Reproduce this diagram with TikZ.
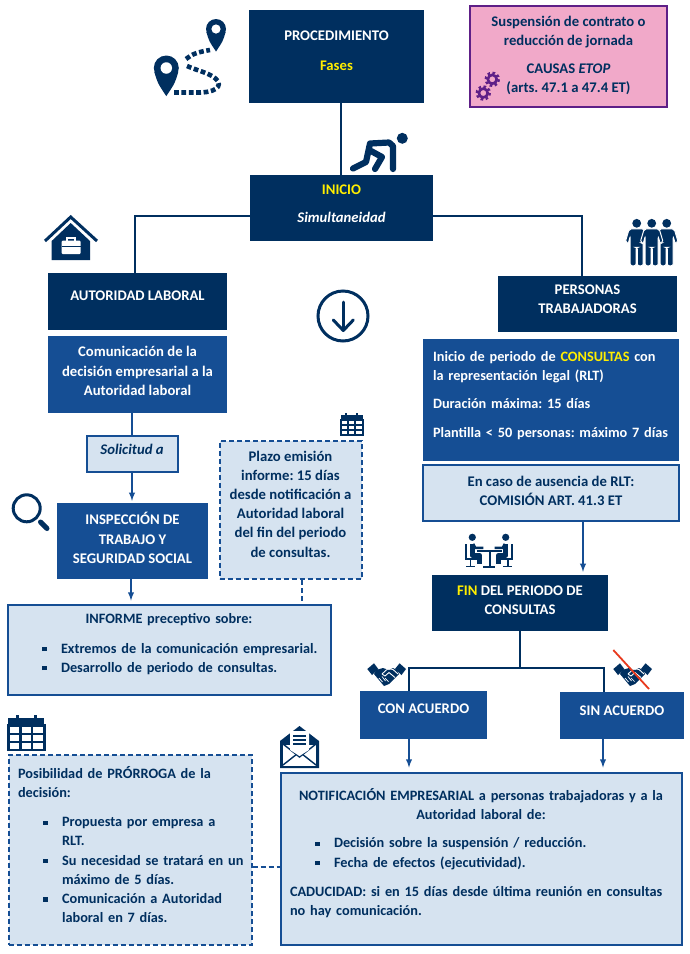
\documentclass[tikz,border=0pt]{standalone}
\usepackage{fontspec}
\setmainfont{Carlito}
\definecolor{navy}{HTML}{002F5F}
\definecolor{midblue}{HTML}{154E94}
\definecolor{paleblue}{HTML}{D6E3F0}
\definecolor{rosebox}{HTML}{F1A9C9}
\definecolor{violet}{HTML}{5E1F87}
\definecolor{hiyellow}{HTML}{FFEE00}
\definecolor{redbar}{HTML}{E8391D}
\newcommand{\boxfont}{\fontsize{14.7pt}{19.2pt}\selectfont\bfseries\frenchspacing}
\newcommand{\listfont}{\fontsize{14.3pt}{19.2pt}\selectfont\bfseries\frenchspacing}
\newcommand{\up}[1]{\rule[-#1]{0pt}{#1}}
\newcommand{\itm}[2]{\par{\leftskip=#1 \noindent\llap{\rule[2pt]{4.2pt}{4.2pt}\hspace{14.5pt}}#2\par}}
\begin{document}
\begin{tikzpicture}[x=1pt, y=-1pt,
    base/.style={font=\boxfont, align=center, inner sep=0pt},
    darkbox/.style={base, fill=navy, text=white},
    midbox/.style={base, fill=midblue, text=white},
    palebox/.style={base, fill=paleblue, text=navy, draw=midblue, line width=2pt},
    dashbox/.style={palebox, dash pattern=on 5pt off 3pt},
    listbox/.style={font=\listfont, align=left},
    rosecard/.style={base, fill=rosebox, text=navy, draw=violet, line width=1.6pt},
    link/.style={navy, line width=1.8pt},
    bluelink/.style={midblue, line width=1.8pt},
    pics/pin/.style={code={
        \fill[navy] (0,0) circle (1);
        \fill[navy] (-0.96,0.3) .. controls (-0.7,1.2) .. (0,2.25) .. controls (0.7,1.2) .. (0.96,0.3) -- cycle;
        \fill[white] (0,0) circle (0.46);
    }},
    pics/calendar/.style={code={
        \fill[navy] (0,0.1) rectangle (1,0.32);
        \fill[navy] (0.2,0.02) rectangle (0.3,0.22);
        \fill[navy] (0.7,0.02) rectangle (0.8,0.22);
        \draw[navy, line width=#1] (0,0.32) rectangle (1,1);
        \draw[navy, line width=#1] (0.34,0.32) -- (0.34,1);
        \draw[navy, line width=#1] (0.66,0.32) -- (0.66,1);
        \draw[navy, line width=#1] (0,0.55) -- (1,0.55);
        \draw[navy, line width=#1] (0,0.77) -- (1,0.77);
    }},
    pics/worker/.style={code={
        \fill[navy] (0,0) circle (4.4);
        \draw[white, line width=1pt, fill=navy, rounded corners=2pt] (-7.5,5.5) -- (7.5,5.5) -- (11.5,19) -- (8.5,20.5) -- (6.5,13) -- (6.5,42.5) -- (0.6,42.5) -- (0.6,24) -- (-0.6,24) -- (-0.6,42.5) -- (-6.5,42.5) -- (-6.5,13) -- (-8.5,20.5) -- (-11.5,19) -- cycle;
    }},
    pics/sitter/.style={code={
        \fill[navy] (0,0) circle (3.6);
        \draw[navy, line width=2pt] (-6,7) -- (-6,22) -- (5,22);
        \draw[navy, line width=1.6pt] (-2,22) -- (-2,29);
        \draw[navy, line width=1.6pt] (-6,29) -- (3,29);
        \draw[navy, line width=5pt, line join=round] (0,7) -- (0,18) -- (7.5,18) -- (7.5,27);
        \draw[navy, line width=2.4pt] (1,6.5) -- (3,10.5) -- (11,10.5);
    }},
    pics/handshake/.style={code={
        \fill[navy] (-19.7,-6) -- (-13,-11.7) -- (-8.7,-6) -- (-15,0) -- cycle;
        \fill[navy] (19,-6) -- (12.5,-11.7) -- (8,-6) -- (14.5,0) -- cycle;
        \fill[navy] (-11,-5) -- (-4,-7) -- (2,-5) -- (6,-7) -- (10,-5) -- (12,-1) -- (2,9) -- (-3,11) -- (-13,-1) -- cycle;
        \draw[white, line width=0.9pt] (-5,-1) -- (1,-6.5) -- (6,-5.5) -- (11,-1);
        \draw[white, line width=0.9pt] (-5,-1) -- (-2,1) -- (2,-2.5) -- (8,2.5);
        \draw[white, line width=0.7pt] (-8,3) -- (-4.5,7);
        \draw[white, line width=0.7pt] (-5,1.5) -- (-1.5,6);
        \draw[white, line width=0.7pt] (-2,3) -- (1.5,6.5);
    }},
    pics/gear/.style={code={
        \draw[violet, line width=2.4pt, dash pattern=on 2.55pt off 2.55pt] (0,0) circle (6.5);
        \draw[violet, line width=2.6pt] (0,0) circle (4.4);
    }}]
    \useasboundingbox (0,0) rectangle (690,954);
    \fill[white] (0,0) rectangle (690,954);

    % top row
    \node[darkbox, minimum width=175pt, minimum height=93pt] (proced) at (336.5,56.5) {PROCEDIMIENTO\\[11pt]\textcolor{hiyellow}{Fases}\up{11pt}};
    \node[rosecard, minimum width=197pt, minimum height=101pt] (causas) at (568.5,56.5) {Suspensión de contrato o\\reducción de jornada\\[9pt]CAUSAS \textit{ETOP}\\(arts. 47.1 a 47.4 ET)\up{4pt}};
    \node[darkbox, minimum width=183pt, minimum height=66pt] (inicio) at (341.5,208) {\textcolor{hiyellow}{INICIO}\\[9pt]\textit{Simultaneidad}\up{8pt}};

    % left column
    \node[darkbox, minimum width=179pt, minimum height=57pt] (autoridad) at (137.5,301.5) {AUTORIDAD LABORAL\up{11pt}};
    \node[midbox, minimum width=179pt, minimum height=77pt] (comunica) at (137.5,374.5) {Comunicación de la\\decisión empresarial a la\\Autoridad laboral\up{7pt}};
    \node[palebox, minimum width=91pt, minimum height=36pt] (solicitud) at (132,453.5) {\textit{Solicitud a}\up{9pt}};
    \node[midbox, minimum width=151pt, minimum height=76pt] (inspeccion) at (132.5,541) {INSPECCIÓN DE\\TRABAJO Y\\SEGURIDAD SOCIAL\up{6pt}};
    \node[dashbox, minimum width=142pt, minimum height=138pt] (plazo) at (290.5,510) {Plazo emisión\\informe: 15 días\\desde notificación a\\Autoridad laboral\\del fin del periodo\\de consultas.\up{12pt}};
    \node[palebox, listbox, minimum width=323pt, minimum height=90pt, text width=304pt] (informe) at (169,649.5) {{\centering INFORME preceptivo sobre:\par}\vspace{10pt}\itm{44pt}{Extremos de la comunicación empresarial.}\itm{44pt}{Desarrollo de periodo de consultas.\up{13pt}}};
    \node[dashbox, listbox, minimum width=243pt, minimum height=190pt, text width=224pt] (prorroga) at (130,849.5) {Posibilidad de PRÓRROGA de la\\decisión:\par\vspace{10pt}\itm{44pt}{Propuesta por empresa a\\RLT.}\itm{44pt}{\mbox{Su necesidad se tratará en un}\\máximo de 5 días.}\itm{44pt}{Comunicación a Autoridad\\laboral en 7 días.\up{10pt}}};

    % right column
    \node[darkbox, minimum width=179pt, minimum height=56pt] (personas) at (587.5,304) {PERSONAS\\TRABAJADORAS\up{9pt}};
    \node[midbox, listbox, minimum width=256pt, minimum height=122pt, text width=236pt] (consultas) at (551,400) {Inicio de periodo de \textcolor{hiyellow}{CONSULTAS} con\\la representación legal (RLT)\par\vspace{9pt}Duración máxima: 15 días\par\vspace{10pt}Plantilla < 50 personas: máximo 7 días\up{11pt}};
    \node[palebox, minimum width=256pt, minimum height=56pt] (ausencia) at (551,493) {En caso de ausencia de RLT:\\COMISIÓN ART. 41.3 ET\up{5pt}};
    \node[darkbox, minimum width=176pt, minimum height=56pt] (fin) at (520,603) {\textcolor{hiyellow}{FIN} DEL PERIODO DE\\CONSULTAS\up{6pt}};
    \node[midbox, minimum width=127pt, minimum height=48pt] (conacuerdo) at (423.5,715) {CON ACUERDO\up{12pt}};
    \node[midbox, minimum width=124pt, minimum height=47pt] (sinacuerdo) at (622,715.5) {SIN ACUERDO\up{9pt}};
    \node[palebox, listbox, minimum width=401pt, minimum height=172pt, text width=382pt] (notifica) at (481,858.5) {{\centering NOTIFICACIÓN EMPRESARIAL a personas trabajadoras y a la\\Autoridad laboral de:\par}\vspace{9pt}\itm{44pt}{Decisión sobre la suspensión / reducción.}\itm{44pt}{Fecha de efectos (ejecutividad).}\par\vspace{10pt}CADUCIDAD: si en 15 días desde última reunión en consultas\\no hay comunicación.\up{13pt}};

    % connectors
    \coordinate (split) at (520,668);
    \draw[link] ([xshift=4.5pt]proced.south) -- ([xshift=-0.5pt]inicio.north);
    \draw[link] ([yshift=-8pt]inicio.west) -| ([xshift=-2.5pt]autoridad.north);
    \draw[link] ([yshift=-8pt]inicio.east) -| ([xshift=-5.5pt]personas.north);
    \draw[bluelink] ([xshift=-5.5pt]comunica.south) -- (solicitud.north);
    \draw[bluelink, -latex] (solicitud.south) -- ([xshift=-0.5pt, yshift=2pt]inspeccion.north);
    \draw[bluelink, -latex] ([xshift=-1.5pt]inspeccion.south) -- ([xshift=-38pt, yshift=3pt]informe.north);
    \draw[bluelink, -latex] ([xshift=32pt]ausencia.south) -- ([xshift=63pt, yshift=3pt]fin.north);
    \draw[link] (fin.south) -- (split);
    \draw[link] (split) -| ([xshift=-14.5pt]conacuerdo.north);
    \draw[link] (split) -| ([xshift=-18pt]sinacuerdo.north);
    \draw[bluelink, -latex] ([xshift=-14.5pt]conacuerdo.south) -- ([xshift=-72pt, yshift=4pt]notifica.north);
    \draw[bluelink, -latex] ([xshift=-19pt]sinacuerdo.south) -- ([xshift=122pt, yshift=4pt]notifica.north);
    \draw[bluelink, dash pattern=on 5pt off 3pt] ([xshift=11.5pt]plazo.south) -- ([xshift=133pt]informe.north);
    \draw[bluelink, dash pattern=on 5pt off 3pt] ([yshift=-17.5pt]prorroga.east) -- ([yshift=-8.5pt]notifica.west);

    % route icon
    \pic[scale=12.5] at (166.3,68) {pin};
    \pic[scale=10] at (216,29) {pin};
    \draw[navy, line width=4.6pt, dash pattern=on 4.8pt off 2.6pt] (174,92.5) -- (200,92.5) .. controls (220,92) and (224,83) .. (212,76) .. controls (205,72) and (196,70) .. (187,66);
    \draw[navy, line width=4.6pt, dash pattern=on 4.8pt off 2.6pt] (186,59) .. controls (192,54) and (198,52) .. (210,50);

    % runner
    \fill[navy] (402.3,138.3) circle (5.5);
    \draw[navy, line width=6.2pt, line cap=round, line join=round] (393,169) -- (393,146) -- (389,142.5) -- (370,143.5) -- (366,162) -- (353,168.5);
    \draw[navy, line width=6.2pt, line cap=round, line join=round] (371,151) -- (382,157) -- (375,169);

    % house
    \fill[navy] (51.7,260) -- (51.7,241) -- (70.7,223) -- (90,241) -- (90,260) -- cycle;
    \draw[navy, line width=3pt] (45,241) -- (70.7,217) -- (97,241);
    \draw[white, line width=1.4pt] (67,241) -- (67,238) -- (75,238) -- (75,241);
    \fill[white, rounded corners=1pt] (61.7,240.7) rectangle (80.7,254);
    \draw[navy, line width=1pt] (61.7,246) -- (80.7,246);

    % down arrow
    \draw[navy, line width=3pt] (343,316) circle (25);
    \draw[navy, line width=3pt, line cap=round, line join=round] (343.3,302) -- (343.3,330);
    \draw[navy, line width=3pt, line cap=round, line join=round] (333.3,320) -- (343.3,330.5) -- (353.3,320);

    % people
    \pic at (636.7,223.3) {worker};
    \pic at (666.7,223.3) {worker};
    \pic at (651.7,223.3) {worker};

    % magnifier
    \draw[navy, line width=3pt] (26.7,508.3) circle (13.5);
    \draw[navy, line width=5pt, line cap=round] (40.5,522) -- (47,528.5);

    % calendars
    \pic[scale=22] at (340.7,413) {calendar=1.6pt};
    \pic[scale=36] at (8.3,714) {calendar=2.4pt};

    % envelope
    \fill[navy] (280,741) -- (299.5,726) -- (319,741) -- (319,768) -- (280,768) -- cycle;
    \fill[white] (283,745) rectangle (316,765.5);
    \draw[navy, line width=1.4pt] (283,765) -- (299.5,752) -- (316,765);
    \draw[navy, line width=1.4pt] (283,744) -- (299.5,757) -- (316,744);
    \fill[white] (290,731) -- (309,731) -- (309,750) -- (299.5,756) -- (290,750) -- cycle;
    \draw[navy, line width=1.2pt] (293,736) -- (306,736);
    \draw[navy, line width=1.2pt] (293,740) -- (306,740);
    \draw[navy, line width=1.2pt] (293,744) -- (306,744);

    % meeting
    \pic at (472.3,537.3) {sitter};
    \pic[xscale=-1] at (505.7,537.3) {sitter};
    \draw[navy, line width=2pt] (477,551) -- (502,551);
    \draw[navy, line width=2pt] (489.5,551) -- (489.5,567);
    \draw[navy, line width=2pt] (483,567) -- (495,567);

    % handshakes
    \pic at (387,675) {handshake};
    \pic at (633,675) {handshake};
    \draw[redbar, line width=1.8pt] (613.3,650) -- (649,689);

    % gears
    \pic at (492.3,79.3) {gear};
    \pic at (483.3,93) {gear};
\end{tikzpicture}
\end{document}
